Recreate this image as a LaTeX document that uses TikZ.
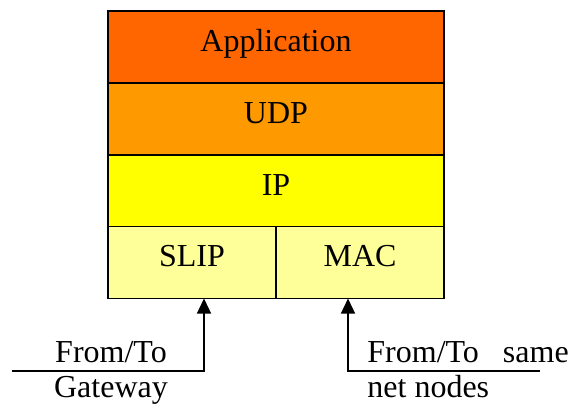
\documentclass[tikz,border=0pt]{standalone}
\usepackage{fontspec}
\setmainfont{Liberation Serif}
\usetikzlibrary{arrows.meta}

\definecolor{appcol}{HTML}{FF6600}
\definecolor{udpcol}{HTML}{FF9900}
\definecolor{ipcol}{HTML}{FFFF00}
\definecolor{linkcol}{HTML}{FFFF99}

\begin{document}
\begin{tikzpicture}[x=0.5pt, y=-0.5pt,
    every node/.style={font=\fontsize{16}{19}\selectfont},
    layer/.style={draw, line width=0.7pt, inner sep=0pt, outer sep=0pt,
        minimum height=36pt, text height=10pt, text depth=6pt},
    wide/.style={layer, minimum width=168pt},
    half/.style={layer, minimum width=84pt},
    link/.style={line width=0.7pt, -{Triangle[length=7.5pt, width=7pt]}}]
    \useasboundingbox (0,0) rectangle (571,408);

    % Pila de protocolos
    \node[wide, fill=appcol] (app) at (276,47) {Application};
    \node[wide, fill=udpcol] (udp) at (276,119) {UDP};
    \node[wide, fill=ipcol] (ip) at (276,191) {IP};
    \node[half, fill=linkcol] (slip) at (192,262.5) {SLIP};
    \node[half, fill=linkcol] (mac) at (360,262.5) {MAC};

    % Hacia el gateway (izquierda)
    \coordinate (gwend) at (12,371);
    \coordinate (gwturn) at (204,371);
    \draw[link] (gwend) -- (gwturn) -- (gwturn |- slip.south);
    \node[anchor=base] (gwtop) at (111,362) {From/To};
    \node[anchor=base] (gwbot) at (111,397) {Gateway};

    % Hacia los nodos de la misma red (derecha)
    \coordinate (netend) at (540,371);
    \coordinate (netturn) at (348,371);
    \draw[link] (netend) -- (netturn) -- (netturn |- mac.south);
    \node[anchor=base west, inner sep=0pt] (nettop) at (367,362) {From/To\ \ \ same};
    \node[anchor=base west, inner sep=0pt] (netbot) at (367,397) {net nodes};
\end{tikzpicture}
\end{document}
